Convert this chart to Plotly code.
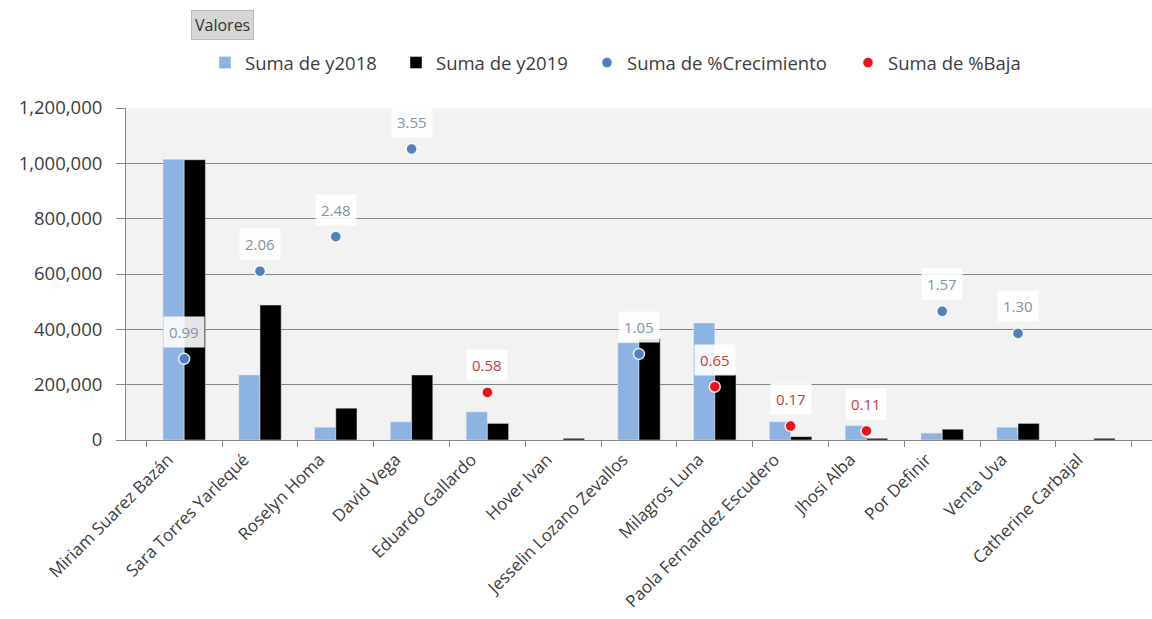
import plotly.graph_objects as go

# Ventas por vendedor: 2018 vs 2019 y variación
vendedores = [
    "Miriam Suarez Bazán", "Sara Torres Yarlequé", "Roselyn Homa", "David Vega",
    "Eduardo Gallardo", "Hover Ivan", "Jesselin Lozano Zevallos", "Milagros Luna",
    "Paola Fernandez Escudero", "Jhosi Alba", "Por Definir", "Venta Uva",
    "Catherine Carbajal",
]
y2018 = [1015000, 235000, 46000, 66000, 102000, 0, 352000, 423000, 66000, 52000, 25000, 46000, 0]
y2019 = [1013000, 488000, 115000, 235000, 60000, 6000, 366000, 238000, 12000, 6000, 39000, 60000, 6000]
crecimiento = [0.99, 2.06, 2.48, 3.55, None, None, 1.05, None, None, None, 1.57, 1.30, None]
baja = [None, None, None, None, 0.58, None, None, 0.65, 0.17, 0.11, None, None, None]

FONT = "Open Sans"
TXT = "#3c3c3c"
GRID = "#858585"

W, H = 1152, 619
L, T, B = 126, 108, 179

fig = go.Figure()
fig.add_bar(x=vendedores, y=y2018, name="Suma de y2018", marker_color="#8db3e2",
            legend="legend")
fig.add_bar(x=vendedores, y=y2019, name="Suma de y2019", marker_color="#000000",
            legend="legend2")
fig.add_scatter(
    x=vendedores, y=crecimiento, name="Suma de %Crecimiento", mode="markers",
    yaxis="y2", legend="legend3",
    marker=dict(size=11, color="#4f81bd", line=dict(color="rgba(255,255,255,0.85)", width=1.5)),
)
fig.add_scatter(
    x=vendedores, y=baja, name="Suma de %Baja", mode="markers",
    yaxis="y2", legend="legend4",
    marker=dict(size=11, color="#e8141c", line=dict(color="rgba(255,255,255,0.85)", width=1.5)),
)

# Etiquetas de datos con recuadro blanco sobre cada punto
annotations = []
for serie, color in ((crecimiento, "#7d93ad"), (baja, "#c83a3a")):
    for cat, v in zip(vendedores, serie):
        if v is None:
            continue
        annotations.append(dict(
            x=cat, y=v, xref="x", yref="y2", yshift=27,
            text=f"{v:.2f}", showarrow=False,
            font=dict(family=FONT, size=15, color=color),
            bgcolor="rgba(255,255,255,0.9)", borderpad=5,
        ))

# Botón de campo "Valores"
annotations.append(dict(
    x=(222 - L) / (W - L), y=1 + (T - 25) / (H - T - B), xref="paper", yref="paper",
    xanchor="center", yanchor="middle",
    text="Valores", showarrow=False,
    font=dict(family=FONT, size=16, color="#333333"),
    bgcolor="#d6d6d6", bordercolor="#b8b8b8", borderwidth=1, borderpad=3,
))

# Una leyenda por serie, alineadas en una fila
legend_x = [205, 396, 587, 848]
legends = {}
for i, lx in enumerate(legend_x):
    key = "legend" if i == 0 else f"legend{i + 1}"
    legends[key] = dict(
        orientation="h", x=lx / W, y=1 - 63 / H, xref="container", yref="container",
        xanchor="left", yanchor="middle",
        font=dict(family=FONT, size=18.5, color=TXT),
        bgcolor="rgba(0,0,0,0)",
    )

fig.update_layout(
    width=W, height=H,
    margin=dict(l=L, r=0, t=T, b=B, autoexpand=False),
    paper_bgcolor="#ffffff", plot_bgcolor="#f2f2f2",
    font=dict(family=FONT, size=18, color=TXT),
    barmode="group", bargap=0.44, bargroupgap=0,
    showlegend=True,
    xaxis=dict(
        type="category", tickangle=-45, automargin=False,
        showline=True, linecolor=GRID, linewidth=1,
        ticks="outside", tickson="boundaries", ticklen=6, tickcolor=GRID,
        ticklabelshift=-16, ticklabelstandoff=2,
        showgrid=False, tickfont=dict(family=FONT, size=17, color=TXT),
    ),
    yaxis=dict(
        range=[0, 1200000], dtick=200000, tickformat=",d", automargin=False,
        showline=True, linecolor=GRID, linewidth=1,
        ticks="outside", ticklen=9, tickcolor=GRID, ticklabelstandoff=10,
        showgrid=True, gridcolor=GRID, gridwidth=1, zeroline=False,
        tickfont=dict(family=FONT, size=18.5, color=TXT),
    ),
    yaxis2=dict(range=[0, 4.05], overlaying="y", visible=False),
    annotations=annotations,
    **legends,
)

fig.write_html("out.html")
